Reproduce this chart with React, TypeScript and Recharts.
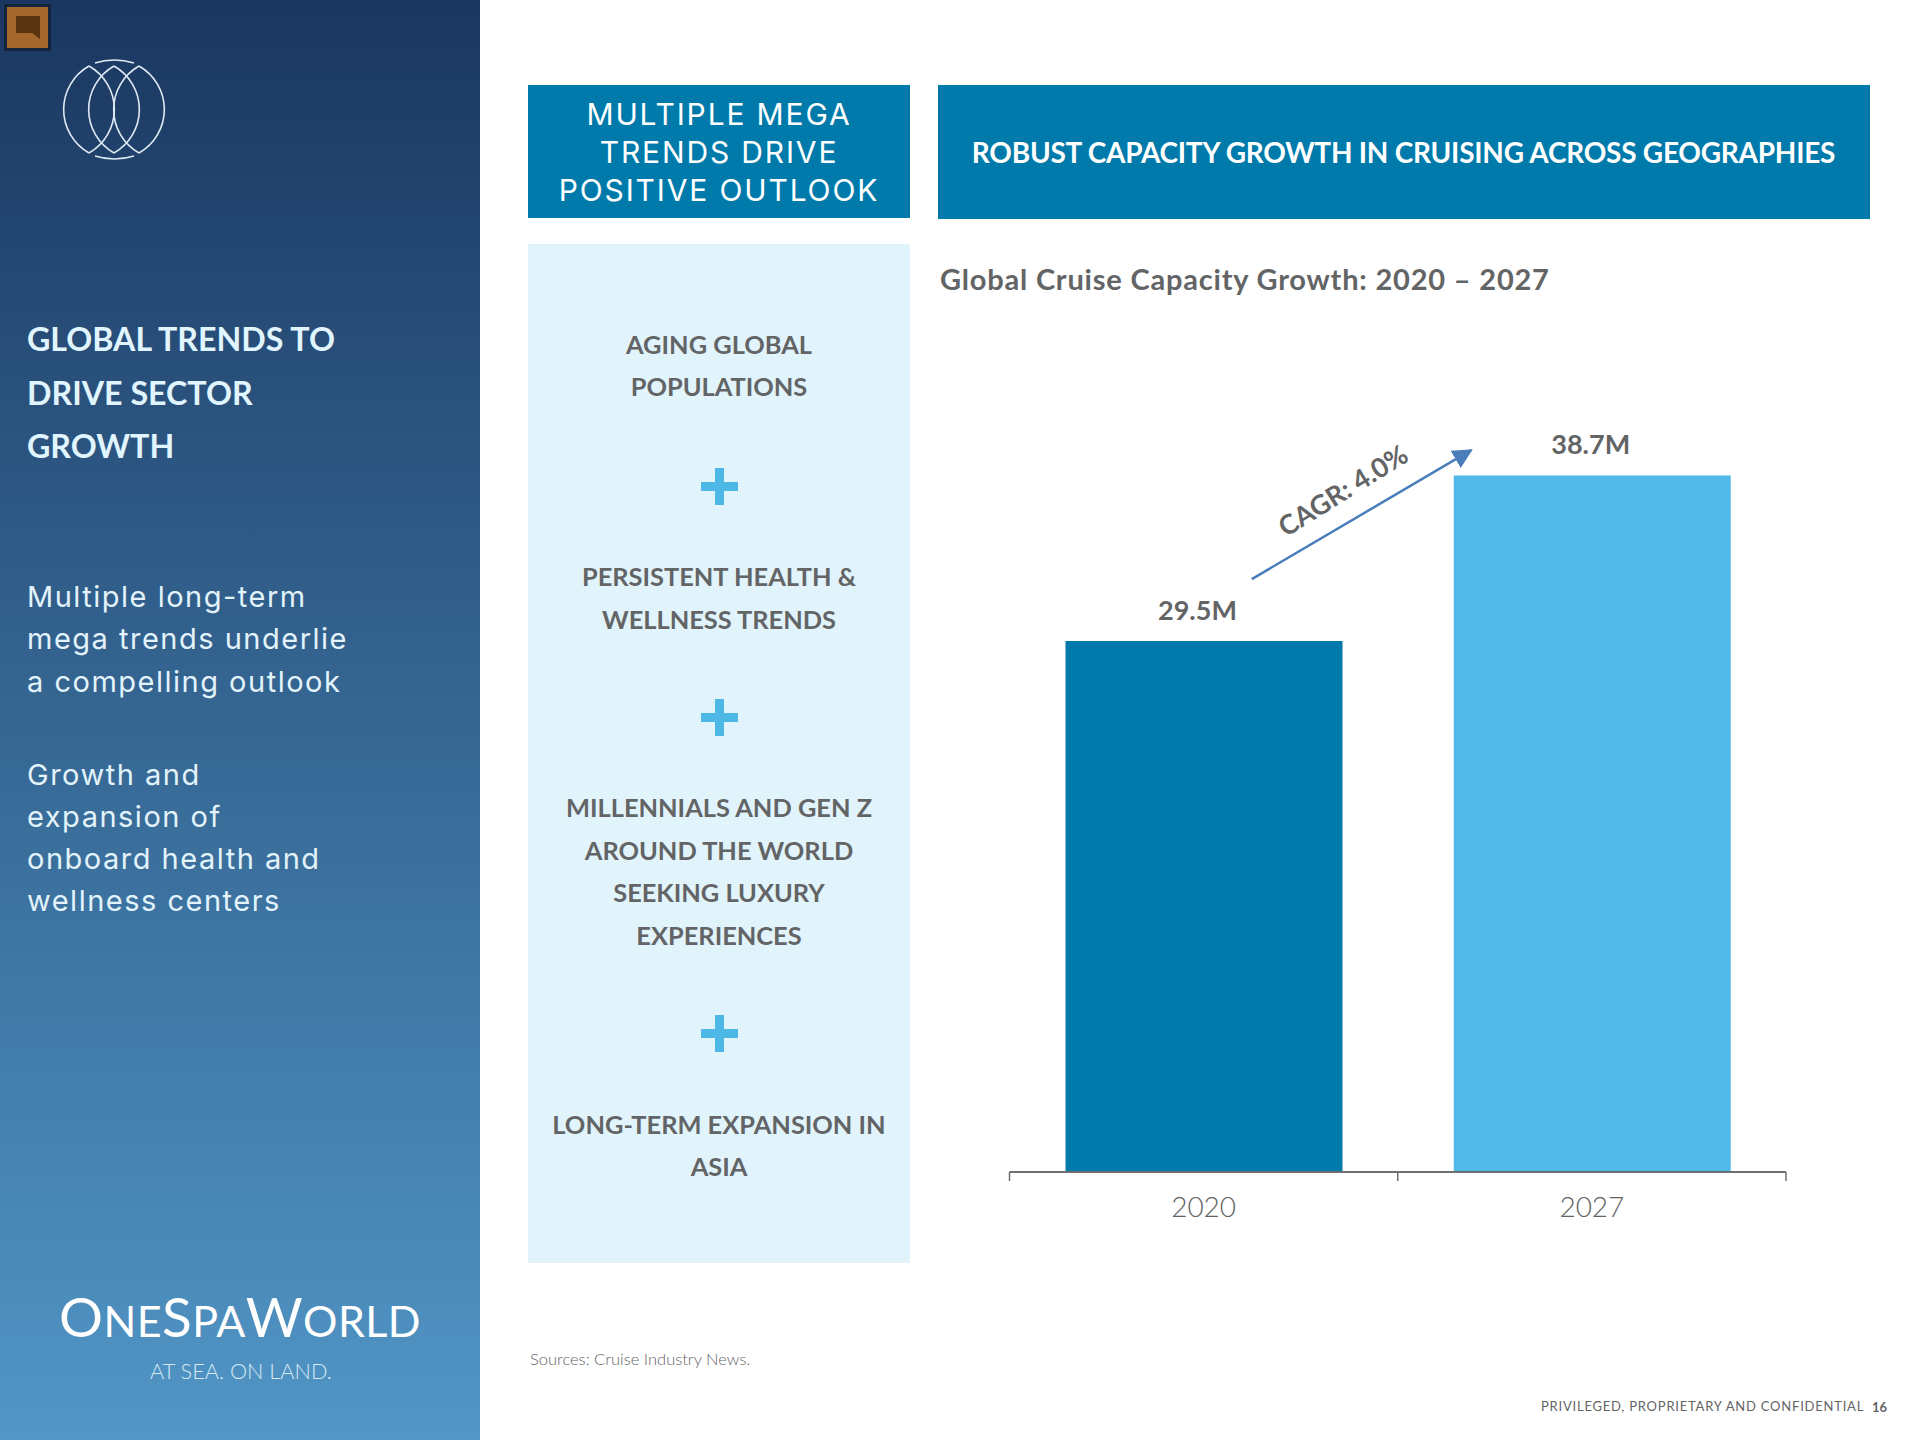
import { Bar, BarChart, Cell, LabelList, ReferenceDot, ReferenceLine, XAxis, YAxis } from 'recharts';
import type { CSSProperties } from 'react';

// Chart data
const years = ['2020', '2027'];
const capacity = [29.5, 38.7];
const capacityLabels = ['29.5M', '38.7M'];
const bandCentres = [0.5, 1.5];
const chartRows = years.map((year, i) => ({ year, capacity: capacity[i], bandCentre: bandCentres[i] }));

// Annotation arrow, in band units (x) and millions (y)
const arrowFrom = { band: 0.624, millions: 32.94 };
const arrowTo = { band: 1.189, millions: 40.1 };
const cagrAnchor = { band: 0.858, millions: 37.9 };
const cagrLabel = 'CAGR: 4.0%';

// Slide text
const sideTitle = ['GLOBAL TRENDS TO', 'DRIVE SECTOR', 'GROWTH'];
const sideBodyA = ['Multiple long-term', 'mega trends underlie', 'a compelling outlook'];
const sideBodyB = ['Growth and', 'expansion of', 'onboard health and', 'wellness centers'];
const headerLeft = ['MULTIPLE MEGA', 'TRENDS DRIVE', 'POSITIVE OUTLOOK'];
const headerRight = 'ROBUST CAPACITY GROWTH IN CRUISING ACROSS GEOGRAPHIES';
const chartTitle = 'Global Cruise Capacity Growth: 2020 – 2027';
const trends = [
    { lines: ['AGING GLOBAL', 'POPULATIONS'], ys: [345, 387] },
    { lines: ['PERSISTENT HEALTH &', 'WELLNESS TRENDS'], ys: [577, 620] },
    { lines: ['MILLENNIALS AND GEN Z', 'AROUND THE WORLD', 'SEEKING LUXURY', 'EXPERIENCES'], ys: [808, 851, 893, 935.5] },
    { lines: ['LONG-TERM EXPANSION IN', 'ASIA'], ys: [1125, 1167] },
];
const plusYs = [486, 717.5, 1033.5];

const COLORS = {
    dark: '#007aaa',
    light: '#51b9e8',
    panel: '#e1f4fc',
    gray: '#636466',
    arrow: '#4a7ebb',
    plus: '#4db7e6',
};
const BAR_FILLS = [COLORS.dark, COLORS.light];
const LABEL_SHIFT = [-6.5, -1.5];
const CALIBRI = 'Lato, "Open Sans", sans-serif';
const GEOMETRIC = 'Inter, "Open Sans", sans-serif';
const THIN = 'Lato, Roboto, sans-serif';

// Posisi teks: x kiri (atau tengah), y = tengah baris
function Txt({ x, y, children, center, style }: {
    x: number; y: number; children: React.ReactNode; center?: boolean; style?: CSSProperties;
}) {
    return (
        <div
            style={{
                position: 'absolute',
                left: x,
                top: y,
                whiteSpace: 'nowrap',
                lineHeight: 1,
                transform: center ? 'translate(-50%, -50%)' : 'translateY(-50%)',
                ...style,
            }}
        >
            {children}
        </div>
    );
}

function Logo() {
    const lens = [89, 114, 139];
    return (
        <svg width={130} height={130} style={{ position: 'absolute', left: 49, top: 45 }} viewBox="49 45 130 130">
            <g fill="none" stroke="#dfeaf3" strokeWidth={1.6}>
                {lens.map((c) => (
                    <g key={c}>
                        <path d={`M${c} 66 A50 50 0 0 0 ${c} 153`} />
                        <path d={`M${c} 66 A50 50 0 0 1 ${c} 153`} />
                    </g>
                ))}
                <path d="M95 63 Q114 57 134 63" />
                <path d="M95 156 Q114 162 134 156" />
            </g>
        </svg>
    );
}

function BarValueLabel(props: any) {
    const { x, y, width, index } = props;
    return (
        <text
            x={x + width / 2 + LABEL_SHIFT[index]}
            y={y - 32}
            textAnchor="middle"
            dominantBaseline="central"
            fontFamily={CALIBRI}
            fontWeight={700}
            fontSize={27}
            fill={COLORS.gray}
        >
            {capacityLabels[index]}
        </text>
    );
}

function CagrLabel(props: any) {
    const { x, y } = props.viewBox;
    return (
        <text
            x={x}
            y={y}
            textAnchor="middle"
            dominantBaseline="central"
            fontFamily={CALIBRI}
            fontWeight={700}
            fontSize={27}
            fill={COLORS.gray}
            transform={`rotate(-32 ${x} ${y})`}
        >
            {cagrLabel}
        </text>
    );
}

function CapacityChart() {
    return (
        <BarChart
            width={900}
            height={960}
            data={chartRows}
            margin={{ top: 62, right: 74, bottom: 0, left: 49.5 }}
            barCategoryGap={0}
        >
            <defs>
                <marker id="arrowHead" viewBox="0 0 10 10" refX="9" refY="5" markerWidth="20" markerHeight="20" markerUnits="userSpaceOnUse" orient="auto">
                    <path d="M0 0 L10 5 L0 10 Z" fill={COLORS.arrow} />
                </marker>
            </defs>
            {/* sumbu numerik: garis dan tick di batas band */}
            <XAxis
                xAxisId="edges"
                dataKey="bandCentre"
                type="number"
                domain={[0, 2]}
                allowDataOverflow
                ticks={[0, 1, 2]}
                tickFormatter={() => ''}
                height={10}
                tickSize={9}
                axisLine={{ stroke: '#6d6e70', strokeWidth: 2 }}
                tickLine={{ stroke: '#6d6e70', strokeWidth: 1.5 }}
            />
            <XAxis
                xAxisId="years"
                dataKey="year"
                height={78}
                axisLine={false}
                tickLine={false}
                tickMargin={9}
                tick={{ fontFamily: THIN, fontWeight: 300, fontSize: 28, fill: COLORS.gray }}
            />
            <YAxis hide domain={[0, 45]} />
            <Bar xAxisId="years" dataKey="capacity" barSize={277} isAnimationActive={false}>
                {chartRows.map((row, i) => (
                    <Cell key={row.year} fill={BAR_FILLS[i]} />
                ))}
                <LabelList dataKey="capacity" content={BarValueLabel} />
            </Bar>
            <ReferenceLine
                xAxisId="edges"
                segment={[
                    { x: arrowFrom.band, y: arrowFrom.millions },
                    { x: arrowTo.band, y: arrowTo.millions },
                ]}
                stroke={COLORS.arrow}
                strokeWidth={2.5}
                markerEnd="url(#arrowHead)"
            />
            <ReferenceDot
                xAxisId="edges"
                x={cagrAnchor.band}
                y={cagrAnchor.millions}
                r={0}
                stroke="none"
                fill="none"
                label={<CagrLabel />}
            />
        </BarChart>
    );
}

export default function App() {
    const sideBody: CSSProperties = { fontFamily: GEOMETRIC, fontSize: 29, color: '#e3f3fb', letterSpacing: 1.5 };
    const trendStyle: CSSProperties = { fontFamily: CALIBRI, fontWeight: 700, fontSize: 25.4, color: COLORS.gray };
    return (
        <div style={{ position: 'absolute', left: 0, top: 0, width: 1920, height: 1440, background: '#fff', overflow: 'hidden' }}>
            {/* Panel kiri */}
            <div style={{ position: 'absolute', left: 0, top: 0, width: 480, height: 1440, background: 'linear-gradient(180deg, #1a3760 0%, #5196c6 100%)' }} />
            <div style={{ position: 'absolute', left: 4, top: 4, width: 41, height: 41, background: '#a4682f', border: '3px solid #14243c' }}>
                <svg width={41} height={41} viewBox="0 0 41 41" style={{ display: 'block' }}>
                    <path d="M9 9 H33 V32 L25 26 H9 Z" fill="#5a3410" />
                </svg>
            </div>
            <Logo />
            {sideTitle.map((t, i) => (
                <Txt key={t} x={27} y={339 + i * 53.6} style={{ fontFamily: CALIBRI, fontWeight: 700, fontSize: 32.2, color: '#e1f5fe' }}>{t}</Txt>
            ))}
            {sideBodyA.map((t, i) => (
                <Txt key={t} x={27} y={595.5 + i * 42.5} style={sideBody}>{t}</Txt>
            ))}
            {sideBodyB.map((t, i) => (
                <Txt key={t} x={27} y={773.5 + i * 42.3} style={sideBody}>{t}</Txt>
            ))}
            <Txt x={59} y={1316} style={{ fontFamily: THIN, fontWeight: 400, color: '#fff', fontSize: 43, letterSpacing: 0.4 }}>
                <span style={{ fontSize: 55 }}>O</span>NE<span style={{ fontSize: 55 }}>S</span>PA<span style={{ fontSize: 55 }}>W</span>ORLD
            </Txt>
            <Txt x={241} y={1372} center style={{ fontFamily: THIN, fontWeight: 300, color: '#d5e8f4', fontSize: 21.7 }}>AT SEA. ON LAND.</Txt>

            {/* Kolom tren */}
            <div style={{ position: 'absolute', left: 528, top: 85, width: 382, height: 133, background: COLORS.dark }} />
            {headerLeft.map((t, i) => (
                <Txt key={t} x={719} y={114 + i * 38} center style={{ fontFamily: GEOMETRIC, fontSize: 30, color: '#fff', letterSpacing: 1.85 }}>{t}</Txt>
            ))}
            <div style={{ position: 'absolute', left: 528, top: 244, width: 382, height: 1019, background: COLORS.panel }} />
            {trends.map((group) =>
                group.lines.map((t, i) => (
                    <Txt key={t} x={719} y={group.ys[i]} center style={trendStyle}>{t}</Txt>
                )),
            )}
            {plusYs.map((y) => (
                <div key={y}>
                    <div style={{ position: 'absolute', left: 700.5, top: y - 4.5, width: 37, height: 9, background: COLORS.plus }} />
                    <div style={{ position: 'absolute', left: 714.5, top: y - 18.5, width: 9, height: 37, background: COLORS.plus }} />
                </div>
            ))}

            {/* Kolom grafik */}
            <div style={{ position: 'absolute', left: 938, top: 85, width: 932, height: 134, background: COLORS.dark }} />
            <Txt x={1403.5} y={152} center style={{ fontFamily: CALIBRI, fontWeight: 700, fontSize: 28, letterSpacing: -0.25, color: '#fff' }}>{headerRight}</Txt>
            <Txt x={940} y={278} style={{ fontFamily: CALIBRI, fontWeight: 700, fontSize: 29, letterSpacing: 0.8, color: COLORS.gray }}>{chartTitle}</Txt>
            <div style={{ position: 'absolute', left: 960, top: 300 }}>
                <CapacityChart />
            </div>

            <Txt x={530} y={1359} style={{ fontFamily: THIN, fontWeight: 300, fontSize: 16.5, color: COLORS.gray }}>Sources: Cruise Industry News.</Txt>
            <Txt x={1541} y={1406} style={{ fontFamily: THIN, fontWeight: 400, fontSize: 13, letterSpacing: 0.78, color: COLORS.gray }}>PRIVILEGED, PROPRIETARY AND CONFIDENTIAL</Txt>
            <Txt x={1872} y={1407} style={{ fontFamily: CALIBRI, fontWeight: 700, fontSize: 13, color: COLORS.gray }}>16</Txt>
        </div>
    );
}
